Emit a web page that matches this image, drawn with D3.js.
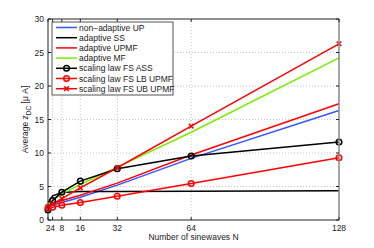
<!DOCTYPE html>
<html>
<head>
<meta charset="utf-8">
<script src="https://cdn.jsdelivr.net/npm/d3@7"></script>
<style>
  body { margin: 0; background: #fff; }
  text { font-family: "Liberation Sans", Arial, sans-serif; }
</style>
</head>
<body>
<div id="chart"></div>
<script>
const width = 374;
const height = 248;

// data
const nValues = [2, 4, 8, 16, 32, 64, 128];
const xTicks = [2, 4, 8, 16, 32, 64, 128];
const xTickLabels = ["2", "4", "8", "16", "32", "64", "128"];
const yTicks = [0, 5, 10, 15, 20, 25, 30];

const nonAdaptiveUP = [2.0, 2.2, 2.6, 3.4, 5.2, 9.2, 16.35];
const adaptiveSS = [2.6, 3.6, 4.1, 4.25, 4.25, 4.3, 4.35];
const adaptiveUPMF = [2.1, 2.4, 2.9, 3.7, 5.5, 9.7, 17.35];
const adaptiveMF = [2.4, 3.0, 3.9, 5.3, 7.9, 13.1, 24.2];
const fsASS = [1.5, 2.9, 4.15, 5.8, 7.65, 9.55, 11.65];
const fsLBUPMF = [1.8, 1.9, 2.2, 2.6, 3.55, 5.45, 9.3];
const fsUBUPMF = [2.0, 2.4, 3.2, 4.8, 7.8, 14.0, 26.3];

const series = [
  { name: "non\u2212adaptive UP", values: nonAdaptiveUP, color: "#3355ff", marker: null },
  { name: "adaptive SS", values: adaptiveSS, color: "#000000", marker: null },
  { name: "adaptive UPMF", values: adaptiveUPMF, color: "#ff0000", marker: null },
  { name: "adaptive MF", values: adaptiveMF, color: "#77ee00", marker: null },
  { name: "scaling law FS ASS", values: fsASS, color: "#000000", marker: "circle" },
  { name: "scaling law FS LB UPMF", values: fsLBUPMF, color: "#ff0000", marker: "circle" },
  { name: "scaling law FS UB UPMF", values: fsUBUPMF, color: "#ff0000", marker: "cross" }
];

const margin = { top: 19, right: 35, bottom: 28, left: 48 };
const x0 = margin.left, x1 = width - margin.right;
const y0 = height - margin.bottom, y1 = margin.top;

const x = d3.scaleLinear().domain([2, 128]).range([x0, x1]);
const y = d3.scaleLinear().domain([0, 30]).range([y0, y1]);

const svg = d3.select("#chart")
  .append("svg")
  .attr("width", width)
  .attr("height", height);

// grid
const grid = svg.append("g")
  .attr("stroke", "#b8b8b8")
  .attr("stroke-width", 0.8)
  .attr("stroke-dasharray", "1,2");

grid.selectAll(".gx")
  .data(xTicks.slice(1, -1))
  .join("line")
  .attr("x1", d => x(d)).attr("x2", d => x(d))
  .attr("y1", y0).attr("y2", y1);

grid.selectAll(".gy")
  .data(yTicks.slice(1, -1))
  .join("line")
  .attr("y1", d => y(d)).attr("y2", d => y(d))
  .attr("x1", x0).attr("x2", x1);

// lines
const line = d3.line()
  .x((d, i) => x(nValues[i]))
  .y(d => y(d));

const plot = svg.append("g");

series.forEach(s => {
  plot.append("path")
    .datum(s.values)
    .attr("fill", "none")
    .attr("stroke", s.color)
    .attr("stroke-width", 1.5)
    .attr("d", line);
});

function drawMarker(g, type, cx, cy, color) {
  if (type === "circle") {
    g.append("circle")
      .attr("cx", cx).attr("cy", cy).attr("r", 2.8)
      .attr("fill", "none")
      .attr("stroke", color)
      .attr("stroke-width", 1.5);
  } else if (type === "cross") {
    const r = 2.3;
    g.append("path")
      .attr("d", `M${cx - r},${cy - r}L${cx + r},${cy + r}M${cx - r},${cy + r}L${cx + r},${cy - r}`)
      .attr("stroke", color)
      .attr("stroke-width", 1.5);
  }
}

series.filter(s => s.marker).forEach(s => {
  s.values.forEach((v, i) => drawMarker(plot, s.marker, x(nValues[i]), y(v), s.color));
});

// axes box
const axes = svg.append("g");
axes.append("line").attr("x1", x0).attr("x2", x1).attr("y1", y1).attr("y2", y1)
  .attr("stroke", "#222").attr("stroke-width", 1);
axes.append("line").attr("x1", x0).attr("x2", x0).attr("y1", y0).attr("y2", y1)
  .attr("stroke", "#222").attr("stroke-width", 1);
axes.append("line").attr("x1", x0).attr("x2", x1).attr("y1", y0).attr("y2", y0)
  .attr("stroke", "#222").attr("stroke-width", 1);
axes.append("line").attr("x1", x1).attr("x2", x1).attr("y1", y0).attr("y2", y1)
  .attr("stroke", "#888").attr("stroke-width", 1.5);

// ticks (inward, on both sides)
yTicks.forEach(t => {
  axes.append("line").attr("x1", x0).attr("x2", x0 + 3).attr("y1", y(t)).attr("y2", y(t)).attr("stroke", "#222");
  axes.append("line").attr("x1", x1).attr("x2", x1 - 3).attr("y1", y(t)).attr("y2", y(t)).attr("stroke", "#222");
});
xTicks.forEach(t => {
  axes.append("line").attr("x1", x(t)).attr("x2", x(t)).attr("y1", y0).attr("y2", y0 - 3).attr("stroke", "#222");
  axes.append("line").attr("x1", x(t)).attr("x2", x(t)).attr("y1", y1).attr("y2", y1 + 3).attr("stroke", "#222");
});

axes.selectAll(".ylab")
  .data(yTicks)
  .join("text")
  .attr("x", x0 - 4)
  .attr("y", d => y(d) + 3)
  .attr("text-anchor", "end")
  .attr("font-size", 8.5)
  .attr("fill", "#222")
  .text(d => d);

axes.selectAll(".xlab")
  .data(xTicks)
  .join("text")
  .attr("x", d => x(d))
  .attr("y", y0 + 11)
  .attr("text-anchor", "middle")
  .attr("font-size", 8.5)
  .attr("fill", "#222")
  .text((d, i) => xTickLabels[i]);

svg.append("text")
  .attr("x", (x0 + x1) / 2)
  .attr("y", y0 + 19.5)
  .attr("text-anchor", "middle")
  .attr("font-size", 8.5)
  .attr("fill", "#222")
  .text("Number of sinewaves N");

const yLabel = svg.append("text")
  .attr("transform", `translate(28,${(y0 + y1) / 2}) rotate(-90)`)
  .attr("text-anchor", "middle")
  .attr("font-size", 8.5)
  .attr("fill", "#222");
yLabel.append("tspan").text("Average z");
yLabel.append("tspan").attr("font-size", 6.5).attr("dy", 2.5).text("DC");
yLabel.append("tspan").attr("dy", -2.5).text(" [\u03bc A]");

// legend
const legend = svg.append("g").attr("transform", "translate(52,22)");
legend.append("rect")
  .attr("width", 121).attr("height", 73)
  .attr("fill", "#fff")
  .attr("stroke", "#555")
  .attr("stroke-width", 1);

series.forEach((s, i) => {
  const ly = 5.5 + i * 10.2;
  legend.append("line")
    .attr("x1", 4).attr("x2", 25).attr("y1", ly).attr("y2", ly)
    .attr("stroke", s.color).attr("stroke-width", 1.5);
  if (s.marker) drawMarker(legend, s.marker, 14.5, ly, s.color);
  legend.append("text")
    .attr("x", 27).attr("y", ly + 3)
    .attr("font-size", 8.5)
    .attr("fill", "#222")
    .text(s.name);
});
</script>
</body>
</html>
